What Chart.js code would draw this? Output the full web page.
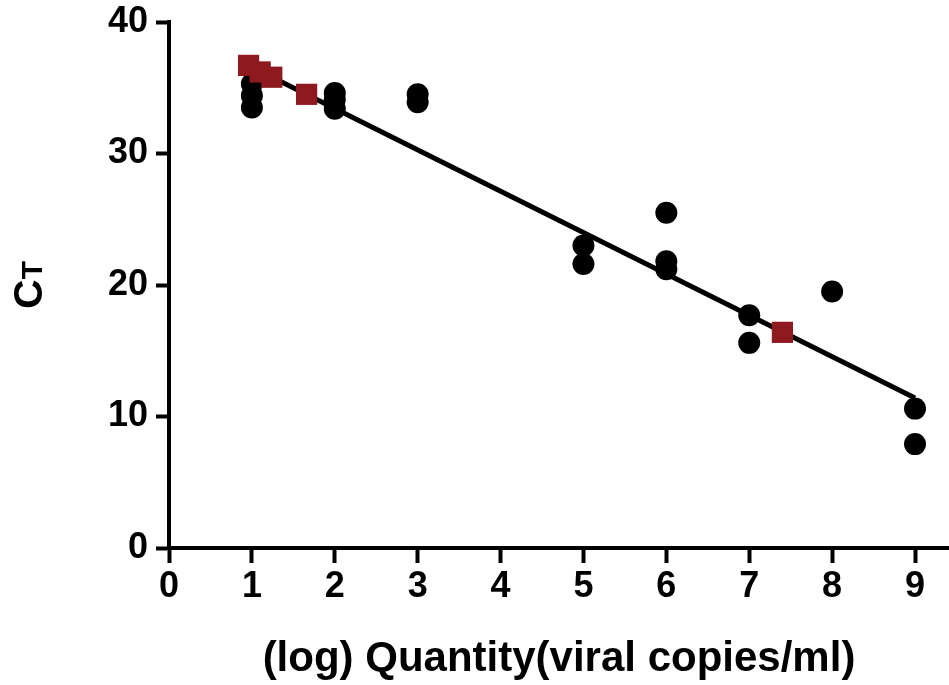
<!DOCTYPE html>
<html>
<head>
<meta charset="utf-8">
<script src="https://cdn.jsdelivr.net/npm/chart.js@4"></script>
<style>
  html, body { margin: 0; padding: 0; background: #fff; }
  #wrap { width: 949px; height: 685px; }
</style>
</head>
<body>
<div id="wrap"><canvas id="ctChart" width="949" height="685"></canvas></div>
<script>
// standards (black circles)
var stdX = [1, 1, 1, 2, 2, 2, 3, 3, 5, 5, 6, 6, 6, 7, 7, 8, 9, 9];
var stdY = [35.3, 34.4, 33.5, 34.6, 34.1, 33.4, 34.5, 33.9, 23.0, 21.6, 25.5, 21.8, 21.2, 17.7, 15.6, 19.5, 10.6, 7.9];

// samples (red squares)
var smpX = [0.96, 1.10, 1.24, 1.66, 7.40];
var smpY = [36.7, 36.2, 35.8, 34.5, 16.4];

// regression line ends
var fitX = [0.96, 9];
var fitY = [36.7, 11.4];

var xTicks = [0, 1, 2, 3, 4, 5, 6, 7, 8, 9];
var yTicks = [0, 10, 20, 30, 40];

function pts(xs, ys){
    return xs.map(function(x, i){ return {x: x, y: ys[i]}; });
}

var FONT = "'Liberation Sans', Arial, sans-serif";

// y axis title: C with smaller T
var yTitle = {
    id: 'yTitle',
    afterDraw: function(chart){
        var ctx = chart.ctx;
        var a = chart.chartArea;
        ctx.save();
        ctx.translate(42, (a.top + a.bottom) / 2);
        ctx.rotate(-Math.PI / 2);
        ctx.fillStyle = '#000';
        ctx.textBaseline = 'alphabetic';
        ctx.font = 'bold 41px ' + FONT;
        var wC = ctx.measureText('C').width;
        ctx.font = 'bold 30px ' + FONT;
        var wT = ctx.measureText('T').width;
        var x0 = -(wC + wT) / 2;
        ctx.font = 'bold 41px ' + FONT;
        ctx.fillText('C', x0, 0);
        ctx.font = 'bold 30px ' + FONT;
        ctx.fillText('T', x0 + wC, 0);
        ctx.restore();
    }
};

var ctx = document.getElementById('ctChart').getContext('2d');
var chart = new Chart(ctx, {
    type: 'scatter',
    data: {
        datasets: [
            {
                label: 'standards',
                data: pts(stdX, stdY),
                pointStyle: 'circle',
                pointRadius: 11,
                backgroundColor: '#000',
                borderWidth: 0,
                order: 3
            },
            {
                label: 'fit',
                type: 'line',
                data: pts(fitX, fitY),
                borderColor: '#000',
                borderWidth: 5,
                pointRadius: 0,
                fill: false,
                order: 2
            },
            {
                label: 'samples',
                data: pts(smpX, smpY),
                pointStyle: 'rect',
                pointRadius: 15,
                backgroundColor: '#8e1a1f',
                borderWidth: 0,
                order: 1
            }
        ]
    },
    options: {
        responsive: false,
        animation: false,
        layout: { autoPadding: false, padding: { top: 22, right: 0, left: 0, bottom: 0 } },
        plugins: {
            legend: { display: false },
            tooltip: { enabled: false }
        },
        scales: {
            x: {
                type: 'linear',
                min: 0,
                max: 9.41,
                afterBuildTicks: function(s){ s.ticks = xTicks.map(function(v){ return {value: v}; }); },
                afterFit: function(s){ s.height = 137; s.paddingLeft = 0; s.paddingRight = 0; },
                grid: { drawOnChartArea: false, tickLength: 15, tickWidth: 4, tickColor: '#000' },
                border: { display: true, color: '#000', width: 4 },
                ticks: { color: '#000', font: { family: FONT, size: 36, weight: 'bold' }, padding: 2, maxRotation: 0 },
                title: {
                    display: true,
                    text: '(log) Quantity(viral copies/ml)',
                    color: '#000',
                    font: { family: FONT, size: 42, weight: 'bold' },
                    padding: { top: 0, bottom: 0 }
                }
            },
            y: {
                type: 'linear',
                min: 0,
                max: 40,
                afterBuildTicks: function(s){ s.ticks = yTicks.map(function(v){ return {value: v}; }); },
                afterFit: function(s){ s.width = 169; s.paddingTop = 0; s.paddingBottom = 0; },
                grid: { drawOnChartArea: false, tickLength: 13, tickWidth: 4, tickColor: '#000' },
                border: { display: true, color: '#000', width: 4 },
                ticks: { color: '#000', font: { family: FONT, size: 36, weight: 'bold' }, padding: 8 }
            }
        }
    },
    plugins: [yTitle]
});
</script>
</body>
</html>
